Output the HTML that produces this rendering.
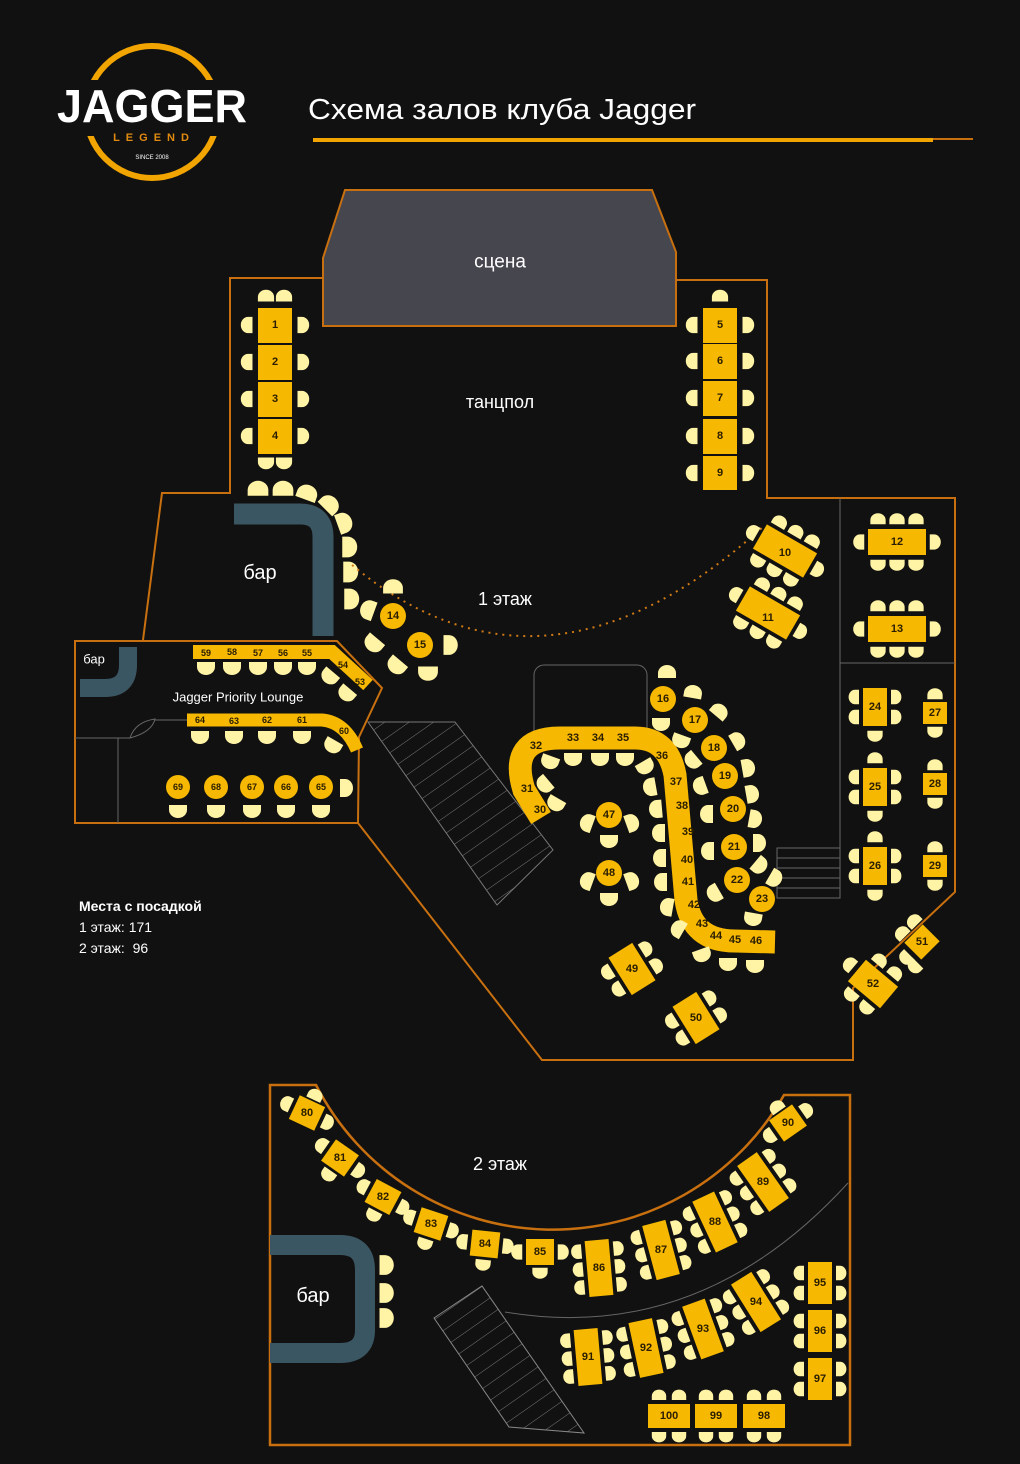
<!DOCTYPE html>
<html><head><meta charset="utf-8"><style>
html,body{margin:0;padding:0;background:#111;}
svg{display:block;}
.n{font-family:"Liberation Sans",sans-serif;font-weight:bold;font-size:11px;fill:#2a1d00;text-anchor:middle;dominant-baseline:central;}
.w{font-family:"Liberation Sans","Noto Sans CJK SC",sans-serif;fill:#fff;text-anchor:middle;dominant-baseline:central;}
.t{fill:#f6b800;}
.ch{fill:#fff3a6;}
</style></head><body>
<svg width="1020" height="1464" viewBox="0 0 1020 1464" xmlns="http://www.w3.org/2000/svg">
<defs>
<path id="c" class="ch" d="M-9,5 L-9,0 A9,8 0 0 1 9,0 L9,5 Z"/>
<pattern id="h" width="14" height="14" patternUnits="userSpaceOnUse" patternTransform="rotate(-35)"><line x1="0" y1="0" x2="14" y2="0" stroke="#777" stroke-width="1"/></pattern>
</defs>
<rect width="1020" height="1464" fill="#111"/>

<!-- logo -->
<circle cx="152" cy="112" r="66" fill="none" stroke="#f2a400" stroke-width="6"/>
<rect x="50" y="80" width="206" height="56" fill="#111"/>
<text x="152" y="106" class="w" style="font-size:46px;font-weight:bold" textLength="190" lengthAdjust="spacingAndGlyphs">JAGGER</text>
<text x="154" y="138" class="w" style="font-size:11px;font-weight:bold;fill:#e08a10;letter-spacing:6px">LEGEND</text>
<text x="152" y="158" class="w" style="font-size:6px">SINCE 2008</text>

<text x="308" y="110" class="w" style="font-size:29px;text-anchor:start" textLength="388" lengthAdjust="spacingAndGlyphs">Схема залов клуба Jagger</text>
<rect x="313" y="138" width="620" height="4" fill="#f2a400"/>
<rect x="933" y="138" width="40" height="2" fill="#c8700f"/>

<!-- floor 1 outline -->
<polygon points="345,190 652,190 676,252 676,326 323,326 323,258" fill="#46464f" stroke="#c8700f" stroke-width="2"/>
<polyline points="323,278 230,278 230,493 162,493 143,640" fill="none" stroke="#c8700f" stroke-width="2"/>
<polyline points="676,280 767,280 767,498 955,498 955,892 853,988 853,1060 542,1060 358,823" fill="none" stroke="#c8700f" stroke-width="2"/>
<polygon points="75,641 337,641 382,688 359,737 358,823 75,823" fill="none" stroke="#c8700f" stroke-width="2"/>
<text x="500" y="262" class="w" style="font-size:19px">сцена</text>
<text x="500" y="402" class="w" style="font-size:18px">танцпол</text>
<text x="505" y="599" class="w" style="font-size:18px">1 этаж</text>

<!-- gray lines -->
<g fill="none" stroke="#666" stroke-width="1">
<rect x="534" y="665" width="113" height="80" rx="10"/>
<line x1="840" y1="498" x2="840" y2="898"/>
<line x1="840" y1="663" x2="955" y2="663"/>
<rect x="777" y="848" width="63" height="50"/>
<line x1="777" y1="858" x2="840" y2="858"/><line x1="777" y1="868" x2="840" y2="868"/><line x1="777" y1="878" x2="840" y2="878"/><line x1="777" y1="888" x2="840" y2="888"/>
<polyline points="75,738 130,738"/>
<path d="M130,738 Q135,722 155,719 Q152,732 130,738 Z"/>
<line x1="155" y1="720" x2="188" y2="720"/>
<line x1="118" y1="738" x2="118" y2="823"/>
</g>
<polygon points="368,722 455,722 553,850 497,905" fill="url(#h)" stroke="#777" stroke-width="1"/>

<!-- bar floor1 -->
<path d="M234,514 L300,514 Q323,514 323,537 L323,636" fill="none" stroke="#3b5663" stroke-width="21"/>
<text x="260" y="573" class="w" style="font-size:20px">бар</text>
<g>
<use href="#c" transform="translate(258,490) scale(1.15)"/>
<use href="#c" transform="translate(283,490) scale(1.15)"/>
<use href="#c" transform="translate(307,494) rotate(20) scale(1.15)"/>
<use href="#c" transform="translate(329,505) rotate(45) scale(1.15)"/>
<use href="#c" transform="translate(343,523) rotate(70) scale(1.15)"/>
<use href="#c" transform="translate(348,547) rotate(90) scale(1.15)"/>
<use href="#c" transform="translate(349,572) rotate(90) scale(1.15)"/>
<use href="#c" transform="translate(350,599) rotate(90) scale(1.15)"/>
</g>
<path d="M352,565 Q545,725 765,525" fill="none" stroke="#d07a15" stroke-width="2" stroke-dasharray="2,5"/>

<!-- 14, 15 -->
<use href="#c" transform="translate(393,588) scale(1.1)"/>
<use href="#c" transform="translate(369,610) rotate(-70) scale(1.1)"/>
<use href="#c" transform="translate(374,643) rotate(-140) scale(1.1)"/>
<circle cx="393" cy="616" r="13" class="t"/><text x="393" y="616" class="n">14</text>
<use href="#c" transform="translate(449,645) rotate(90) scale(1.1)"/>
<use href="#c" transform="translate(397,665) rotate(-140) scale(1.1)"/>
<use href="#c" transform="translate(428,672) rotate(180) scale(1.1)"/>
<circle cx="420" cy="645" r="13" class="t"/><text x="420" y="645" class="n">15</text>

<!-- tables 1-4 -->
<use href="#c" transform="translate(266,297) scale(.9)"/><use href="#c" transform="translate(284,297) scale(.9)"/>
<use href="#c" transform="translate(266,462) rotate(180) scale(.9)"/><use href="#c" transform="translate(284,462) rotate(180) scale(.9)"/>
<g>
<rect x="258" y="308" width="34" height="35" class="t"/><rect x="258" y="345" width="34" height="35" class="t"/><rect x="258" y="382" width="34" height="35" class="t"/><rect x="258" y="419" width="34" height="35" class="t"/>
<text x="275" y="325" class="n">1</text><text x="275" y="362" class="n">2</text><text x="275" y="399" class="n">3</text><text x="275" y="436" class="n">4</text>
<use href="#c" transform="translate(248,325) rotate(-90) scale(.9)"/><use href="#c" transform="translate(302,325) rotate(90) scale(.9)"/>
<use href="#c" transform="translate(248,362) rotate(-90) scale(.9)"/><use href="#c" transform="translate(302,362) rotate(90) scale(.9)"/>
<use href="#c" transform="translate(248,399) rotate(-90) scale(.9)"/><use href="#c" transform="translate(302,399) rotate(90) scale(.9)"/>
<use href="#c" transform="translate(248,436) rotate(-90) scale(.9)"/><use href="#c" transform="translate(302,436) rotate(90) scale(.9)"/>
</g>
<!-- tables 5-9 -->
<use href="#c" transform="translate(720,297) scale(.9)"/>
<use href="#c" transform="translate(720,482) rotate(180) scale(.9)"/>
<g>
<rect x="703" y="308" width="34" height="35" class="t"/><rect x="703" y="344" width="34" height="35" class="t"/><rect x="703" y="381" width="34" height="35" class="t"/><rect x="703" y="419" width="34" height="35" class="t"/><rect x="703" y="456" width="34" height="34" class="t"/>
<text x="720" y="325" class="n">5</text><text x="720" y="361" class="n">6</text><text x="720" y="398" class="n">7</text><text x="720" y="436" class="n">8</text><text x="720" y="473" class="n">9</text>
<use href="#c" transform="translate(693,325) rotate(-90) scale(.9)"/><use href="#c" transform="translate(747,325) rotate(90) scale(.9)"/>
<use href="#c" transform="translate(693,361) rotate(-90) scale(.9)"/><use href="#c" transform="translate(747,361) rotate(90) scale(.9)"/>
<use href="#c" transform="translate(693,398) rotate(-90) scale(.9)"/><use href="#c" transform="translate(747,398) rotate(90) scale(.9)"/>
<use href="#c" transform="translate(693,436) rotate(-90) scale(.9)"/><use href="#c" transform="translate(747,436) rotate(90) scale(.9)"/>
<use href="#c" transform="translate(693,473) rotate(-90) scale(.9)"/><use href="#c" transform="translate(747,473) rotate(90) scale(.9)"/>
</g>

<!-- 10, 11 -->
<g transform="translate(785,551) rotate(30)">
<use href="#c" transform="translate(-19,-22) scale(.85)"/><use href="#c" transform="translate(0,-22) scale(.85)"/><use href="#c" transform="translate(19,-22) scale(.85)"/>
<use href="#c" transform="translate(-19,22) rotate(180) scale(.85)"/><use href="#c" transform="translate(0,22) rotate(180) scale(.85)"/><use href="#c" transform="translate(19,22) rotate(180) scale(.85)"/>
<use href="#c" transform="translate(-37,0) rotate(-90) scale(.85)"/><use href="#c" transform="translate(37,0) rotate(90) scale(.85)"/>
<rect x="-29" y="-14" width="58" height="28" class="t"/></g>
<text x="785" y="553" class="n">10</text>
<g transform="translate(768,613) rotate(30)">
<use href="#c" transform="translate(-19,-22) scale(.85)"/><use href="#c" transform="translate(0,-22) scale(.85)"/><use href="#c" transform="translate(19,-22) scale(.85)"/>
<use href="#c" transform="translate(-19,22) rotate(180) scale(.85)"/><use href="#c" transform="translate(0,22) rotate(180) scale(.85)"/><use href="#c" transform="translate(19,22) rotate(180) scale(.85)"/>
<use href="#c" transform="translate(-37,0) rotate(-90) scale(.85)"/><use href="#c" transform="translate(37,0) rotate(90) scale(.85)"/>
<rect x="-29" y="-14" width="58" height="28" class="t"/></g>
<text x="768" y="618" class="n">11</text>

<!-- 12, 13 -->
<g transform="translate(897,542)">
<use href="#c" transform="translate(-19,-22) scale(.85)"/><use href="#c" transform="translate(0,-22) scale(.85)"/><use href="#c" transform="translate(19,-22) scale(.85)"/>
<use href="#c" transform="translate(-19,22) rotate(180) scale(.85)"/><use href="#c" transform="translate(0,22) rotate(180) scale(.85)"/><use href="#c" transform="translate(19,22) rotate(180) scale(.85)"/>
<use href="#c" transform="translate(-37,0) rotate(-90) scale(.85)"/><use href="#c" transform="translate(37,0) rotate(90) scale(.85)"/>
<rect x="-29" y="-13" width="58" height="26" class="t"/><text x="0" y="0" class="n">12</text></g>
<g transform="translate(897,629)">
<use href="#c" transform="translate(-19,-22) scale(.85)"/><use href="#c" transform="translate(0,-22) scale(.85)"/><use href="#c" transform="translate(19,-22) scale(.85)"/>
<use href="#c" transform="translate(-19,22) rotate(180) scale(.85)"/><use href="#c" transform="translate(0,22) rotate(180) scale(.85)"/><use href="#c" transform="translate(19,22) rotate(180) scale(.85)"/>
<use href="#c" transform="translate(-37,0) rotate(-90) scale(.85)"/><use href="#c" transform="translate(37,0) rotate(90) scale(.85)"/>
<rect x="-29" y="-13" width="58" height="26" class="t"/><text x="0" y="0" class="n">13</text></g>

<!-- 24-26 -->
<g transform="translate(875,707)">
<use href="#c" transform="translate(-20,-10) rotate(-90) scale(.8)"/><use href="#c" transform="translate(-20,10) rotate(-90) scale(.8)"/>
<use href="#c" transform="translate(20,-10) rotate(90) scale(.8)"/><use href="#c" transform="translate(20,10) rotate(90) scale(.8)"/>
<use href="#c" transform="translate(0,28) rotate(180) scale(.85)"/>
<rect x="-12" y="-19" width="24" height="38" class="t"/><text x="0" y="0" class="n">24</text></g>
<g transform="translate(875,787)">
<use href="#c" transform="translate(-20,-10) rotate(-90) scale(.8)"/><use href="#c" transform="translate(-20,10) rotate(-90) scale(.8)"/>
<use href="#c" transform="translate(20,-10) rotate(90) scale(.8)"/><use href="#c" transform="translate(20,10) rotate(90) scale(.8)"/>
<use href="#c" transform="translate(0,28) rotate(180) scale(.85)"/><use href="#c" transform="translate(0,-28) scale(.85)"/>
<rect x="-12" y="-19" width="24" height="38" class="t"/><text x="0" y="0" class="n">25</text></g>
<g transform="translate(875,866)">
<use href="#c" transform="translate(-20,-10) rotate(-90) scale(.8)"/><use href="#c" transform="translate(-20,10) rotate(-90) scale(.8)"/>
<use href="#c" transform="translate(20,-10) rotate(90) scale(.8)"/><use href="#c" transform="translate(20,10) rotate(90) scale(.8)"/>
<use href="#c" transform="translate(0,28) rotate(180) scale(.85)"/><use href="#c" transform="translate(0,-28) scale(.85)"/>
<rect x="-12" y="-19" width="24" height="38" class="t"/><text x="0" y="0" class="n">26</text></g>
<!-- 27-29 -->
<g transform="translate(935,713)"><use href="#c" transform="translate(0,-18) scale(.85)"/><use href="#c" transform="translate(0,18) rotate(180) scale(.85)"/><rect x="-12" y="-11" width="24" height="22" class="t"/><text x="0" y="0" class="n">27</text></g>
<g transform="translate(935,784)"><use href="#c" transform="translate(0,-18) scale(.85)"/><use href="#c" transform="translate(0,18) rotate(180) scale(.85)"/><rect x="-12" y="-11" width="24" height="22" class="t"/><text x="0" y="0" class="n">28</text></g>
<g transform="translate(935,866)"><use href="#c" transform="translate(0,-18) scale(.85)"/><use href="#c" transform="translate(0,18) rotate(180) scale(.85)"/><rect x="-12" y="-11" width="24" height="22" class="t"/><text x="0" y="0" class="n">29</text></g>

<!-- 51, 52 -->
<g transform="translate(922,942) rotate(-45)">
<use href="#c" transform="translate(-8,-20) scale(.85)"/><use href="#c" transform="translate(-22,0) rotate(-90) scale(.85)"/><use href="#c" transform="translate(9,-20) scale(.85)"/><use href="#c" transform="translate(-22,12) rotate(-90) scale(.85)"/>
<rect x="-13" y="-12" width="26" height="24" class="t"/></g>
<text x="922" y="942" class="n">51</text>
<g transform="translate(873,984) rotate(40)">
<use href="#c" transform="translate(-10,-22) scale(.85)"/><use href="#c" transform="translate(10,-22) scale(.85)"/>
<use href="#c" transform="translate(-10,22) rotate(180) scale(.85)"/><use href="#c" transform="translate(10,22) rotate(180) scale(.85)"/>
<use href="#c" transform="translate(-30,0) rotate(-90) scale(.85)"/>
<rect x="-21" y="-14" width="42" height="28" class="t"/></g>
<text x="873" y="984" class="n">52</text>

<!-- 49, 50 -->
<g transform="translate(632,969) rotate(-32)">
<use href="#c" transform="translate(-22,-10) rotate(-90) scale(.85)"/><use href="#c" transform="translate(-22,10) rotate(-90) scale(.85)"/>
<use href="#c" transform="translate(22,-10) rotate(90) scale(.85)"/><use href="#c" transform="translate(22,10) rotate(90) scale(.85)"/>
<rect x="-14" y="-22" width="28" height="44" class="t"/></g>
<text x="632" y="969" class="n">49</text>
<g transform="translate(696,1018) rotate(-32)">
<use href="#c" transform="translate(-22,-10) rotate(-90) scale(.85)"/><use href="#c" transform="translate(-22,10) rotate(-90) scale(.85)"/>
<use href="#c" transform="translate(22,-10) rotate(90) scale(.85)"/><use href="#c" transform="translate(22,10) rotate(90) scale(.85)"/>
<rect x="-14" y="-22" width="28" height="44" class="t"/></g>
<text x="696" y="1018" class="n">50</text>

<!-- U banquette -->
<path d="M541,818 L524,790 Q508,738 560,738 L635,738 Q668,738 675,775 L686,900 Q692,941 735,941 L775,942" fill="none" stroke="#f6b800" stroke-width="23"/>
<g class="n">
<text x="540" y="810">30</text><text x="527" y="789">31</text><text x="536" y="746">32</text><text x="573" y="738">33</text><text x="598" y="738">34</text><text x="623" y="738">35</text>
<text x="662" y="756">36</text><text x="676" y="782">37</text><text x="682" y="806">38</text><text x="688" y="832">39</text><text x="687" y="860">40</text><text x="688" y="882">41</text><text x="694" y="905">42</text><text x="702" y="924">43</text><text x="716" y="936">44</text><text x="735" y="940">45</text><text x="756" y="941">46</text>
</g>
<g>
<use href="#c" transform="translate(550,761) rotate(200)"/><use href="#c" transform="translate(573,758) rotate(180)"/><use href="#c" transform="translate(600,758) rotate(180)"/><use href="#c" transform="translate(625,758) rotate(180)"/><use href="#c" transform="translate(645,766) rotate(150)"/>
<use href="#c" transform="translate(545,784) rotate(230)"/><use href="#c" transform="translate(556,803) rotate(210)"/>
<use href="#c" transform="translate(651,787) rotate(-100)"/><use href="#c" transform="translate(657,809) rotate(-95)"/><use href="#c" transform="translate(660,833) rotate(-90)"/><use href="#c" transform="translate(661,858) rotate(-90)"/><use href="#c" transform="translate(662,882) rotate(-90)"/><use href="#c" transform="translate(668,907) rotate(-80)"/><use href="#c" transform="translate(679,929) rotate(-60)"/>
<use href="#c" transform="translate(702,954) rotate(160)"/><use href="#c" transform="translate(728,963) rotate(180)"/><use href="#c" transform="translate(755,965) rotate(180)"/>
</g>
<!-- round tables 16-23 -->
<g>
<use href="#c" transform="translate(667,673)"/><use href="#c" transform="translate(693,693) rotate(10)"/><use href="#c" transform="translate(661,723) rotate(180)"/><use href="#c" transform="translate(719,712) rotate(40)"/>
<use href="#c" transform="translate(681,740) rotate(200)"/><use href="#c" transform="translate(737,741) rotate(60)"/><use href="#c" transform="translate(693,760) rotate(230)"/><use href="#c" transform="translate(747,768) rotate(80)"/>
<use href="#c" transform="translate(701,786) rotate(250)"/><use href="#c" transform="translate(751,794) rotate(80)"/><use href="#c" transform="translate(708,814) rotate(-90)"/><use href="#c" transform="translate(754,819) rotate(100)"/>
<use href="#c" transform="translate(709,851) rotate(-90)"/><use href="#c" transform="translate(758,843) rotate(90)"/><use href="#c" transform="translate(759,865) rotate(130)"/><use href="#c" transform="translate(774,878) rotate(120)"/>
<use href="#c" transform="translate(715,893) rotate(-120)"/><use href="#c" transform="translate(753,918) rotate(190)"/>
</g>
<g>
<circle cx="663" cy="699" r="13" class="t"/><text x="663" y="699" class="n">16</text>
<circle cx="695" cy="720" r="13" class="t"/><text x="695" y="720" class="n">17</text>
<circle cx="714" cy="748" r="13" class="t"/><text x="714" y="748" class="n">18</text>
<circle cx="725" cy="776" r="13" class="t"/><text x="725" y="776" class="n">19</text>
<circle cx="733" cy="809" r="13" class="t"/><text x="733" y="809" class="n">20</text>
<circle cx="734" cy="847" r="13" class="t"/><text x="734" y="847" class="n">21</text>
<circle cx="737" cy="880" r="13" class="t"/><text x="737" y="880" class="n">22</text>
<circle cx="762" cy="899" r="13" class="t"/><text x="762" y="899" class="n">23</text>
</g>
<!-- 47, 48 -->
<use href="#c" transform="translate(588,823) rotate(-70)"/><use href="#c" transform="translate(631,823) rotate(70)"/><use href="#c" transform="translate(609,840) rotate(180)"/>
<circle cx="609" cy="815" r="13" class="t"/><text x="609" y="815" class="n">47</text>
<use href="#c" transform="translate(588,881) rotate(-70)"/><use href="#c" transform="translate(631,881) rotate(70)"/><use href="#c" transform="translate(609,898) rotate(180)"/>
<circle cx="609" cy="873" r="13" class="t"/><text x="609" y="873" class="n">48</text>

<!-- lounge -->
<path d="M128,647 L128,665 Q128,688 105,688 L80,688" fill="none" stroke="#3b5663" stroke-width="18"/>
<text x="94" y="659" class="w" style="font-size:13px">бар</text>
<text x="238" y="697" class="w" style="font-size:13px">Jagger Priority Lounge</text>
<path d="M193,652 L332,652 L368,685" fill="none" stroke="#f6b800" stroke-width="14"/>
<g class="n" style="font-size:9px"><text x="206" y="653">59</text><text x="232" y="652">58</text><text x="258" y="653">57</text><text x="283" y="653">56</text><text x="307" y="653">55</text><text x="343" y="665">54</text><text x="360" y="682">53</text></g>
<g>
<use href="#c" transform="translate(206,667) rotate(180)"/><use href="#c" transform="translate(232,667) rotate(180)"/><use href="#c" transform="translate(258,667) rotate(180)"/><use href="#c" transform="translate(283,667) rotate(180)"/><use href="#c" transform="translate(307,667) rotate(180)"/>
<use href="#c" transform="translate(330,676) rotate(220)"/><use href="#c" transform="translate(347,693) rotate(220)"/>
</g>
<path d="M187,720 L322,720 Q345,722 357,750" fill="none" stroke="#f6b800" stroke-width="13"/>
<g class="n" style="font-size:9px"><text x="200" y="720">64</text><text x="234" y="721">63</text><text x="267" y="720">62</text><text x="302" y="720">61</text><text x="344" y="731">60</text></g>
<g>
<use href="#c" transform="translate(200,736) rotate(180)"/><use href="#c" transform="translate(234,736) rotate(180)"/><use href="#c" transform="translate(267,736) rotate(180)"/><use href="#c" transform="translate(302,736) rotate(180)"/><use href="#c" transform="translate(333,745) rotate(210)"/>
</g>
<g>
<use href="#c" transform="translate(178,810) rotate(180)"/><use href="#c" transform="translate(216,810) rotate(180)"/><use href="#c" transform="translate(252,810) rotate(180)"/><use href="#c" transform="translate(286,810) rotate(180)"/><use href="#c" transform="translate(321,810) rotate(180)"/><use href="#c" transform="translate(345,788) rotate(90)"/>
<circle cx="178" cy="787" r="12" class="t"/><text x="178" y="787" class="n" style="font-size:9px">69</text>
<circle cx="216" cy="787" r="12" class="t"/><text x="216" y="787" class="n" style="font-size:9px">68</text>
<circle cx="252" cy="787" r="12" class="t"/><text x="252" y="787" class="n" style="font-size:9px">67</text>
<circle cx="286" cy="787" r="12" class="t"/><text x="286" y="787" class="n" style="font-size:9px">66</text>
<circle cx="321" cy="787" r="12" class="t"/><text x="321" y="787" class="n" style="font-size:9px">65</text>
</g>

<text x="79" y="906" class="w" style="font-size:14px;font-weight:bold;text-anchor:start">Места с посадкой</text>
<text x="79" y="927" class="w" style="font-size:14px;text-anchor:start">1 этаж: 171</text>
<text x="79" y="948" class="w" style="font-size:14px;text-anchor:start;white-space:pre">2 этаж:  96</text>

<!-- floor 2 -->
<path d="M270,1085 L316,1085 A266,266 0 0 0 784,1095 L850,1095 L850,1445 L270,1445 Z" fill="none" stroke="#c8700f" stroke-width="2.5"/>
<text x="500" y="1164" class="w" style="font-size:18px">2 этаж</text>
<path d="M505,1312 Q700,1345 848,1183" fill="none" stroke="#666" stroke-width="1"/>
<polygon points="434,1318 482,1286 584,1433 509,1427" fill="url(#h)" stroke="#888" stroke-width="1"/>
<path d="M270,1245 L340,1245 Q365,1245 365,1270 L365,1330 Q365,1353 340,1353 L270,1353" fill="none" stroke="#3b5663" stroke-width="20"/>
<text x="313" y="1296" class="w" style="font-size:20px">бар</text>
<use href="#c" transform="translate(385,1265) rotate(90) scale(1.1)"/><use href="#c" transform="translate(385,1293) rotate(90) scale(1.1)"/><use href="#c" transform="translate(385,1318) rotate(90) scale(1.1)"/>

<!-- small tables on arc -->
<g transform="translate(307,1113) rotate(25)"><use href="#c" transform="translate(-22,0) rotate(-90) scale(.85)"/><use href="#c" transform="translate(22,0) rotate(90) scale(.85)"/><use href="#c" transform="translate(0,-19) scale(.85)"/><rect x="-14" y="-13" width="28" height="26" class="t"/></g><text x="307" y="1113" class="n">80</text>
<g transform="translate(340,1158) rotate(35)"><use href="#c" transform="translate(-22,0) rotate(-90) scale(.85)"/><use href="#c" transform="translate(22,0) rotate(90) scale(.85)"/><use href="#c" transform="translate(0,20) rotate(180) scale(.85)"/><rect x="-14" y="-13" width="28" height="26" class="t"/></g><text x="340" y="1158" class="n">81</text>
<g transform="translate(383,1197) rotate(28)"><use href="#c" transform="translate(-22,0) rotate(-90) scale(.85)"/><use href="#c" transform="translate(22,0) rotate(90) scale(.85)"/><use href="#c" transform="translate(0,20) rotate(180) scale(.85)"/><rect x="-14" y="-13" width="28" height="26" class="t"/></g><text x="383" y="1197" class="n">82</text>
<g transform="translate(431,1224) rotate(18)"><use href="#c" transform="translate(-22,0) rotate(-90) scale(.85)"/><use href="#c" transform="translate(22,0) rotate(90) scale(.85)"/><use href="#c" transform="translate(0,20) rotate(180) scale(.85)"/><rect x="-14" y="-13" width="28" height="26" class="t"/></g><text x="431" y="1224" class="n">83</text>
<g transform="translate(485,1244) rotate(6)"><use href="#c" transform="translate(-22,0) rotate(-90) scale(.85)"/><use href="#c" transform="translate(22,0) rotate(90) scale(.85)"/><use href="#c" transform="translate(0,20) rotate(180) scale(.85)"/><rect x="-14" y="-13" width="28" height="26" class="t"/></g><text x="485" y="1244" class="n">84</text>
<g transform="translate(540,1252)"><use href="#c" transform="translate(-22,0) rotate(-90) scale(.85)"/><use href="#c" transform="translate(22,0) rotate(90) scale(.85)"/><use href="#c" transform="translate(0,20) rotate(180) scale(.85)"/><rect x="-14" y="-13" width="28" height="26" class="t"/></g><text x="540" y="1252" class="n">85</text>
<g transform="translate(788,1123) rotate(-35)"><use href="#c" transform="translate(-22,0) rotate(-90) scale(.85)"/><use href="#c" transform="translate(22,0) rotate(90) scale(.85)"/><use href="#c" transform="translate(0,-19) scale(.85)"/><rect x="-14" y="-13" width="28" height="26" class="t"/></g><text x="788" y="1123" class="n">90</text>

<!-- long tables -->
<g transform="translate(599,1268) rotate(-5)"><use href="#c" transform="translate(-20,-18) rotate(-90) scale(.8)"/><use href="#c" transform="translate(-20,0) rotate(-90) scale(.8)"/><use href="#c" transform="translate(-20,18) rotate(-90) scale(.8)"/><use href="#c" transform="translate(20,-18) rotate(90) scale(.8)"/><use href="#c" transform="translate(20,0) rotate(90) scale(.8)"/><use href="#c" transform="translate(20,18) rotate(90) scale(.8)"/><rect x="-12" y="-28" width="24" height="56" class="t"/></g><text x="599" y="1268" class="n">86</text>
<g transform="translate(661,1250) rotate(-15)"><use href="#c" transform="translate(-20,-18) rotate(-90) scale(.8)"/><use href="#c" transform="translate(-20,0) rotate(-90) scale(.8)"/><use href="#c" transform="translate(-20,18) rotate(-90) scale(.8)"/><use href="#c" transform="translate(20,-18) rotate(90) scale(.8)"/><use href="#c" transform="translate(20,0) rotate(90) scale(.8)"/><use href="#c" transform="translate(20,18) rotate(90) scale(.8)"/><rect x="-12" y="-28" width="24" height="56" class="t"/></g><text x="661" y="1250" class="n">87</text>
<g transform="translate(715,1222) rotate(-25)"><use href="#c" transform="translate(-20,-18) rotate(-90) scale(.8)"/><use href="#c" transform="translate(-20,0) rotate(-90) scale(.8)"/><use href="#c" transform="translate(-20,18) rotate(-90) scale(.8)"/><use href="#c" transform="translate(20,-18) rotate(90) scale(.8)"/><use href="#c" transform="translate(20,0) rotate(90) scale(.8)"/><use href="#c" transform="translate(20,18) rotate(90) scale(.8)"/><rect x="-12" y="-28" width="24" height="56" class="t"/></g><text x="715" y="1222" class="n">88</text>
<g transform="translate(763,1182) rotate(-35)"><use href="#c" transform="translate(-20,-18) rotate(-90) scale(.8)"/><use href="#c" transform="translate(-20,0) rotate(-90) scale(.8)"/><use href="#c" transform="translate(-20,18) rotate(-90) scale(.8)"/><use href="#c" transform="translate(20,-18) rotate(90) scale(.8)"/><use href="#c" transform="translate(20,0) rotate(90) scale(.8)"/><use href="#c" transform="translate(20,18) rotate(90) scale(.8)"/><rect x="-12" y="-28" width="24" height="56" class="t"/></g><text x="763" y="1182" class="n">89</text>
<g transform="translate(588,1357) rotate(-5)"><use href="#c" transform="translate(-20,-18) rotate(-90) scale(.8)"/><use href="#c" transform="translate(-20,0) rotate(-90) scale(.8)"/><use href="#c" transform="translate(-20,18) rotate(-90) scale(.8)"/><use href="#c" transform="translate(20,-18) rotate(90) scale(.8)"/><use href="#c" transform="translate(20,0) rotate(90) scale(.8)"/><use href="#c" transform="translate(20,18) rotate(90) scale(.8)"/><rect x="-12" y="-28" width="24" height="56" class="t"/></g><text x="588" y="1357" class="n">91</text>
<g transform="translate(646,1348) rotate(-12)"><use href="#c" transform="translate(-20,-18) rotate(-90) scale(.8)"/><use href="#c" transform="translate(-20,0) rotate(-90) scale(.8)"/><use href="#c" transform="translate(-20,18) rotate(-90) scale(.8)"/><use href="#c" transform="translate(20,-18) rotate(90) scale(.8)"/><use href="#c" transform="translate(20,0) rotate(90) scale(.8)"/><use href="#c" transform="translate(20,18) rotate(90) scale(.8)"/><rect x="-12" y="-28" width="24" height="56" class="t"/></g><text x="646" y="1348" class="n">92</text>
<g transform="translate(703,1329) rotate(-20)"><use href="#c" transform="translate(-20,-18) rotate(-90) scale(.8)"/><use href="#c" transform="translate(-20,0) rotate(-90) scale(.8)"/><use href="#c" transform="translate(-20,18) rotate(-90) scale(.8)"/><use href="#c" transform="translate(20,-18) rotate(90) scale(.8)"/><use href="#c" transform="translate(20,0) rotate(90) scale(.8)"/><use href="#c" transform="translate(20,18) rotate(90) scale(.8)"/><rect x="-12" y="-28" width="24" height="56" class="t"/></g><text x="703" y="1329" class="n">93</text>
<g transform="translate(756,1302) rotate(-32)"><use href="#c" transform="translate(-20,-18) rotate(-90) scale(.8)"/><use href="#c" transform="translate(-20,0) rotate(-90) scale(.8)"/><use href="#c" transform="translate(-20,18) rotate(-90) scale(.8)"/><use href="#c" transform="translate(20,-18) rotate(90) scale(.8)"/><use href="#c" transform="translate(20,0) rotate(90) scale(.8)"/><use href="#c" transform="translate(20,18) rotate(90) scale(.8)"/><rect x="-12" y="-28" width="24" height="56" class="t"/></g><text x="756" y="1302" class="n">94</text>

<!-- 95-97 -->
<g transform="translate(820,1283)"><use href="#c" transform="translate(-20,-10) rotate(-90) scale(.8)"/><use href="#c" transform="translate(-20,10) rotate(-90) scale(.8)"/><use href="#c" transform="translate(20,-10) rotate(90) scale(.8)"/><use href="#c" transform="translate(20,10) rotate(90) scale(.8)"/><rect x="-12" y="-21" width="24" height="42" class="t"/><text x="0" y="0" class="n">95</text></g>
<g transform="translate(820,1331)"><use href="#c" transform="translate(-20,-10) rotate(-90) scale(.8)"/><use href="#c" transform="translate(-20,10) rotate(-90) scale(.8)"/><use href="#c" transform="translate(20,-10) rotate(90) scale(.8)"/><use href="#c" transform="translate(20,10) rotate(90) scale(.8)"/><rect x="-12" y="-21" width="24" height="42" class="t"/><text x="0" y="0" class="n">96</text></g>
<g transform="translate(820,1379)"><use href="#c" transform="translate(-20,-10) rotate(-90) scale(.8)"/><use href="#c" transform="translate(-20,10) rotate(-90) scale(.8)"/><use href="#c" transform="translate(20,-10) rotate(90) scale(.8)"/><use href="#c" transform="translate(20,10) rotate(90) scale(.8)"/><rect x="-12" y="-21" width="24" height="42" class="t"/><text x="0" y="0" class="n">97</text></g>
<!-- 98-100 -->
<g transform="translate(669,1416)"><use href="#c" transform="translate(-10,-20) scale(.8)"/><use href="#c" transform="translate(10,-20) scale(.8)"/><use href="#c" transform="translate(-10,20) rotate(180) scale(.8)"/><use href="#c" transform="translate(10,20) rotate(180) scale(.8)"/><rect x="-21" y="-12" width="42" height="24" class="t"/><text x="0" y="0" class="n">100</text></g>
<g transform="translate(716,1416)"><use href="#c" transform="translate(-10,-20) scale(.8)"/><use href="#c" transform="translate(10,-20) scale(.8)"/><use href="#c" transform="translate(-10,20) rotate(180) scale(.8)"/><use href="#c" transform="translate(10,20) rotate(180) scale(.8)"/><rect x="-21" y="-12" width="42" height="24" class="t"/><text x="0" y="0" class="n">99</text></g>
<g transform="translate(764,1416)"><use href="#c" transform="translate(-10,-20) scale(.8)"/><use href="#c" transform="translate(10,-20) scale(.8)"/><use href="#c" transform="translate(-10,20) rotate(180) scale(.8)"/><use href="#c" transform="translate(10,20) rotate(180) scale(.8)"/><rect x="-21" y="-12" width="42" height="24" class="t"/><text x="0" y="0" class="n">98</text></g>
</svg>
</body></html>
